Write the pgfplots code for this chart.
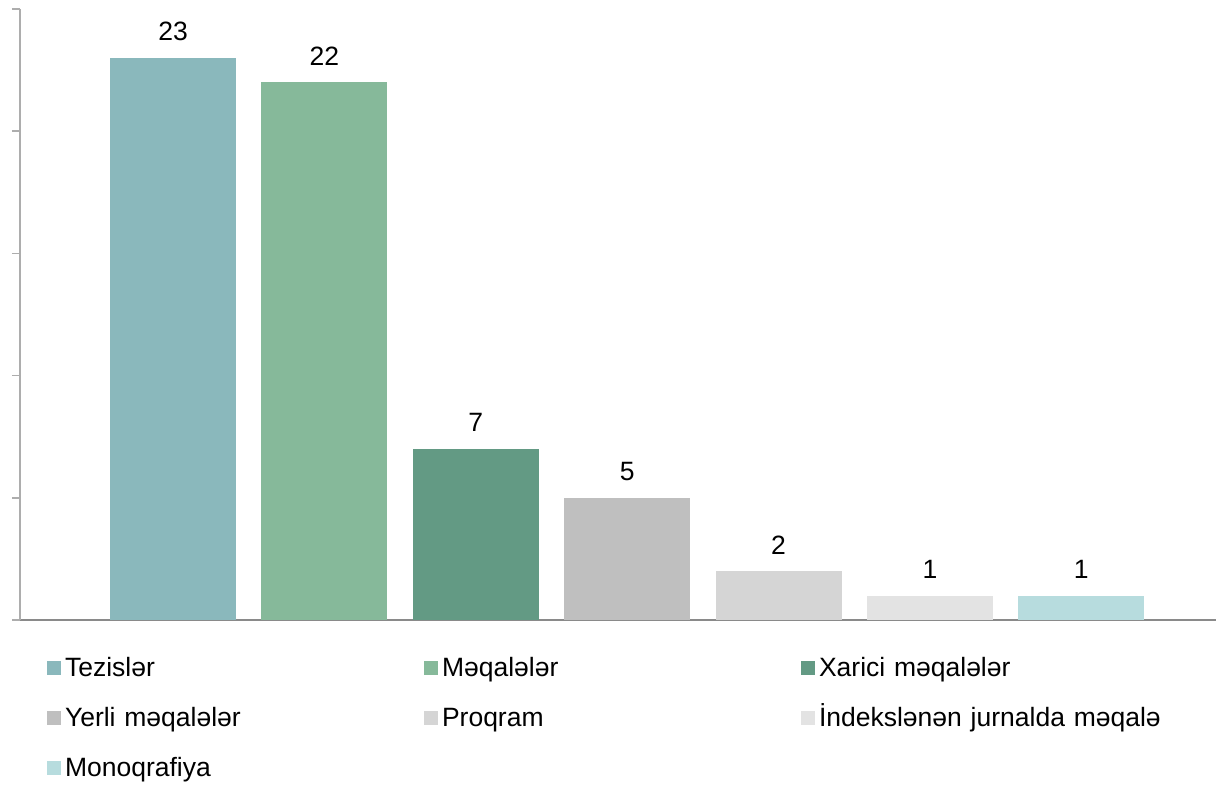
\documentclass[border=0pt]{standalone}
\usepackage{pgfplots}
\pgfplotsset{compat=1.18}
\usepackage{fontspec}
\setmainfont{Liberation Sans}
\newcommand{\fs}{\fontsize{26.5}{30}\selectfont}
\definecolor{c1}{HTML}{8AB8BC}
\definecolor{c2}{HTML}{86B99A}
\definecolor{c3}{HTML}{639A84}
\definecolor{c4}{HTML}{BFBFBF}
\definecolor{c5}{HTML}{D5D5D5}
\definecolor{c6}{HTML}{E3E3E3}
\definecolor{c7}{HTML}{B7DCDE}
\definecolor{axg}{HTML}{999999}
\begin{document}
\begin{tikzpicture}
\useasboundingbox (0,0) rectangle (1217pt,786pt);
\begin{axis}[
  at={(20pt,166pt)}, anchor=south west,
  scale only axis, width=1196pt, height=611pt,
  ybar, bar width=126pt,
  xmin=-1.011, xmax=6.89, ymin=0, ymax=25,
  ytick={0,5,10,15,20,25}, yticklabels={},
  xtick=\empty,
  axis lines=left,
  axis line style={-, line width=1.5pt},
  x axis line style={draw=axg!90!black},
  y axis line style={draw=axg!80!white},
  tick align=outside, major tick length=8pt,
  ytick style={draw=axg!80!white, line width=1.5pt},
  /pgf/number format/assume math mode=true,
  nodes near coords,
  every node near coord/.append style={font=\fs, text=black, inner sep=0pt, anchor=base, yshift=17pt},
  legend columns=3,
  legend cell align=left,
  legend image code/.code={\fill[#1, draw=none] (0pt,-5pt) rectangle (14pt,9pt);},
  legend style={draw=none, fill=none, inner sep=0pt, outer sep=0pt,
    at={(0.0226,-0.0638)}, anchor=north west, font=\fs,
    /tikz/row sep=27pt,
    /tikz/every odd column/.append style={column sep=4pt},
    /tikz/every even column/.append style={column sep=0pt},
    nodes={inner sep=0pt, text height=18pt, text depth=5pt, text width=359pt, align=left}},
]
\addplot[fill=c1, draw=none, bar shift=0pt] coordinates {(0,23)};
\addlegendentry{Tezislər}
\addplot[fill=c2, draw=none, bar shift=0pt] coordinates {(1,22)};
\addlegendentry{Məqalələr}
\addplot[fill=c3, draw=none, bar shift=0pt] coordinates {(2,7)};
\addlegendentry{Xarici məqalələr}
\addplot[fill=c4, draw=none, bar shift=0pt] coordinates {(3,5)};
\addlegendentry{Yerli məqalələr}
\addplot[fill=c5, draw=none, bar shift=0pt] coordinates {(4,2)};
\addlegendentry{Proqram}
\addplot[fill=c6, draw=none, bar shift=0pt] coordinates {(5,1)};
\addlegendentry{İndekslənən jurnalda məqalə}
\addplot[fill=c7, draw=none, bar shift=0pt] coordinates {(6,1)};
\addlegendentry{Monoqrafiya}
\end{axis}
\end{tikzpicture}
\end{document}
